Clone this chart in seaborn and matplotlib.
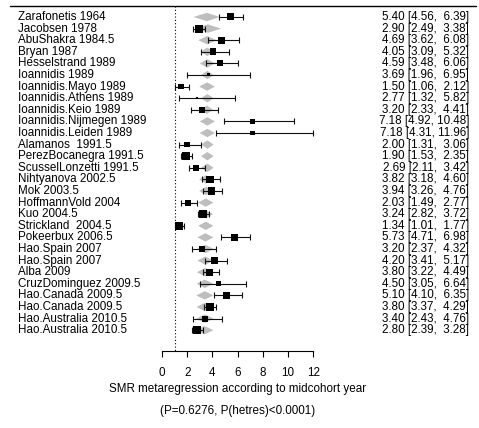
import numpy as np
import pandas as pd
import seaborn as sns
import matplotlib.pyplot as plt

# study labels (as printed on the left)
studies = [
    "Zarafonetis 1964", "Jacobsen 1978", "AbuShakra 1984.5", "Bryan 1987",
    "Hesselstrand 1989", "Ioannidis 1989", "Ioannidis.Mayo 1989",
    "Ioannidis.Athens 1989", "Ioannidis.Keio 1989", "Ioannidis.Nijmegen 1989",
    "Ioannidis.Leiden 1989", "Alamanos  1991.5", "PerezBocanegra 1991.5",
    "ScusselLonzetti 1991.5", "Nihtyanova 2002.5", "Mok 2003.5",
    "HoffmannVold 2004", "Kuo 2004.5", "Strickland  2004.5", "Pokeerbux 2006.5",
    "Hao.Spain 2007", "Hao.Spain 2007", "Alba 2009", "CruzDominguez 2009.5",
    "Hao.Canada 2009.5", "Hao.Canada 2009.5", "Hao.Australia 2010.5",
    "Hao.Australia 2010.5",
]

# observed SMR and 95% CI
smr = [5.40, 2.90, 4.69, 4.05, 4.59, 3.69, 1.50, 2.77, 3.20, 7.18, 7.18, 2.00,
       1.90, 2.69, 3.82, 3.94, 2.03, 3.24, 1.34, 5.73, 3.20, 4.20, 3.80, 4.50,
       5.10, 3.80, 3.40, 2.80]
ci_lo = [4.56, 2.49, 3.62, 3.09, 3.48, 1.96, 1.06, 1.32, 2.33, 4.92, 4.31, 1.31,
         1.53, 2.11, 3.18, 3.26, 1.49, 2.82, 1.01, 4.71, 2.37, 3.41, 3.22, 3.05,
         4.10, 3.37, 2.43, 2.39]
ci_hi = [6.39, 3.38, 6.08, 5.32, 6.06, 6.95, 2.12, 5.82, 4.41, 10.48, 11.96, 3.06,
         2.35, 3.42, 4.60, 4.76, 2.77, 3.72, 1.77, 6.98, 4.32, 5.17, 4.49, 6.64,
         6.35, 4.29, 4.76, 3.28]

# study weights (relative square size)
weight = [7, 8, 7, 6.7, 6, 3, 5.7, 2, 5.7, 5.7, 4.5, 5.5, 7.5, 6.5, 7.5, 7.5,
          6, 8, 7.5, 7, 6, 7, 7, 5, 7, 8, 6, 8]

# fitted values of the metaregression (grey diamonds) and their half CI widths
fitted = [3.55, 3.65, 3.6, 3.6, 3.6, 3.6, 3.58, 3.6, 3.55, 3.6, 3.6, 3.6, 3.6,
          3.6, 3.5, 3.5, 3.48, 3.45, 3.48, 3.44, 3.45, 3.45, 3.42, 3.4, 3.4,
          3.4, 3.4, 3.38]
fit_half = [1.05, 1.05, 0.72, 0.55, 0.6, 0.5, 0.62, 0.5, 0.5, 0.6, 0.6, 0.5, 0.5,
            0.5, 0.55, 0.55, 0.6, 0.6, 0.6, 0.63, 0.65, 0.63, 0.65, 0.66, 0.68,
            0.66, 0.68, 0.7]

xticks = [0, 2, 4, 6, 8, 10, 12]
xlabel = "SMR metaregression according to midcohort year"
subtitle = "(P=0.6276, P(hetres)<0.0001)"

df = pd.DataFrame({"study": studies, "smr": smr, "lo": ci_lo, "hi": ci_hi,
                   "w": weight, "fit": fitted, "fit_half": fit_half})
df["row"] = np.arange(len(df))

sns.set_theme(style="white")
plt.rcParams["font.family"] = ["Liberation Sans", "DejaVu Sans"]
plt.rcParams["text.color"] = "black"

fig = plt.figure(figsize=(4.79, 4.28), dpi=100)
ax = fig.add_axes([0, 0, 1, 1])

# pixel -> data mapping helpers
px_per_x, x0_px = 12.6, 162
px_per_row, row0_px = 11.6, 17
def xd(px):
    return (px - x0_px) / px_per_x
def yd(px):
    return (px - row0_px) / px_per_row

fs = 8.4

# grey diamonds
dh = 4.2 / px_per_row
for _, r in df.iterrows():
    c, h, y = r["fit"], r["fit_half"], r["row"]
    ax.fill([c - h, c, c + h, c], [y, y - dh, y, y + dh],
            color="#BEBEBE", lw=0, zorder=1)

# CI lines
ax.errorbar(df["smr"], df["row"], xerr=[df["smr"] - df["lo"], df["hi"] - df["smr"]],
            fmt="none", ecolor="#111111", elinewidth=0.8, capsize=2.2,
            capthick=0.8, zorder=2)

# weighted squares
sns.scatterplot(data=df, x="smr", y="row", marker="s", color="black",
                s=(df["w"] * 0.72) ** 2, linewidth=0, legend=False, ax=ax,
                zorder=3)

# labels left and estimates right
for _, r in df.iterrows():
    ax.text(xd(18), r["row"], r["study"], ha="left", va="center", fontsize=fs)
    txt = f"{r['smr']:.2f} [{r['lo']:.2f}, {r['hi']:>5.2f}]"
    ax.text(xd(469), r["row"], txt, ha="right", va="center", fontsize=fs)

# top rule and reference line
top = yd(6)
axis_y = yd(350.5)
ax.plot([xd(10), xd(476)], [top, top], color="black", lw=1.0, clip_on=False)
ax.plot([1, 1], [top, axis_y], color="black", lw=0.8, ls=(0, (1, 2)))

ax.set_xlim(xd(0), xd(479))
ax.set_ylim(yd(428), yd(0))

for s in ["top", "left", "right"]:
    ax.spines[s].set_visible(False)
ax.spines["bottom"].set_position(("data", axis_y))
ax.spines["bottom"].set_bounds(0, 12)
ax.spines["bottom"].set_color("black")
ax.spines["bottom"].set_linewidth(0.8)
ax.set_xticks(xticks)
ax.set_xticklabels([str(t) for t in xticks])
ax.set_yticks([])
ax.tick_params(axis="x", bottom=True, direction="out", length=4, width=0.8,
               colors="black", pad=8, labelsize=fs)
ax.set_xlabel("")
ax.set_ylabel("")

ax.text(6, yd(389), xlabel, ha="center", va="center", fontsize=fs)
ax.text(6, yd(411), subtitle, ha="center", va="center", fontsize=fs)

fig.savefig("out.png", dpi=100)
